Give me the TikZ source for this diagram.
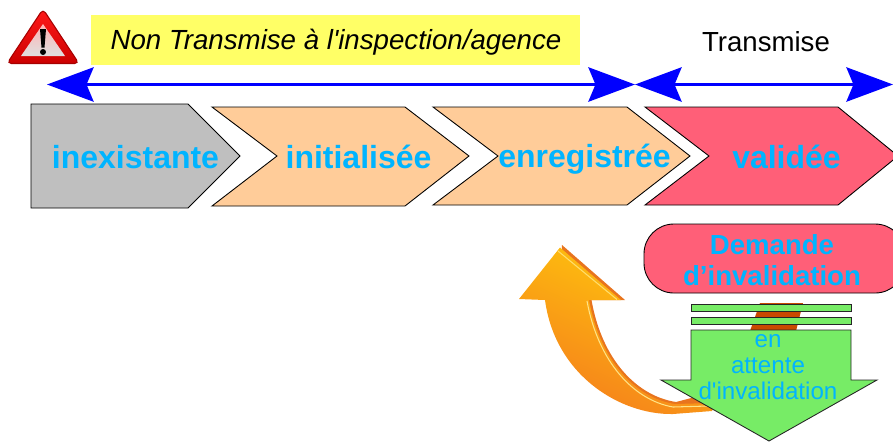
\documentclass[tikz,border=0pt]{standalone}
\usepackage{fontspec}
\setmainfont{Liberation Sans}
\newfontfamily\droitfont{Liberation Sans}
\usepackage{xcolor}
\usetikzlibrary{arrows.meta,positioning}

\definecolor{etatbleu}{HTML}{00B4FF}
\definecolor{etatgris}{HTML}{BFBFBF}
\definecolor{etatpeche}{HTML}{FFCC99}
\definecolor{etatrouge}{HTML}{FF5F78}
\definecolor{etatvert}{HTML}{77EC66}
\definecolor{etatjaune}{HTML}{FFFF66}
\definecolor{flechebleu}{HTML}{0000FF}
\definecolor{retourclair}{HTML}{FFC80C}
\definecolor{retourfonce}{HTML}{F57E1C}
\definecolor{retourbord}{HTML}{E8741E}
\definecolor{retourbrun}{HTML}{C84A00}

\tikzset{
    stepbox/.style={draw=black, line width=0.5pt},
    steplabel/.style={text=etatbleu, anchor=base, font=\fontsize{18.2}{20}\selectfont\bfseries},
    spanline/.style={draw=flechebleu, line width=1.8pt, {Stealth[length=26.5pt, width=19.5pt, inset=4pt]}-{Stealth[length=26.5pt, width=19.5pt, inset=4pt]}},
    barbox/.style={draw=black!85, fill=etatvert, line width=0.5pt}
}

\begin{document}
\begin{tikzpicture}[x=0.02cm, y=-0.02cm]

    \useasboundingbox (0,0) rectangle (893,441);

    % --- PANNEAU ATTENTION ---
    \shade[top color=red!90!white, bottom color=red!80!black, draw=red!65!black, line width=0.6pt, rounded corners=2.5pt] (43,9) -- (79,63.5) -- (7,63.5) -- cycle;
    \shade[top color=red!30!white, middle color=white, bottom color=gray!25] (43,24) -- (65,56) -- (21,56) -- cycle;
    \fill[black] (40,29) -- (46,29) -- (44.5,47.5) -- (41.5,47.5) -- cycle;
    \fill[black] (43,52) circle (3);

    % --- BANDEAUX DU HAUT ---
    \fill[etatjaune] (91,15) rectangle (580,65);
    \node[anchor=base, font=\droitfont\fontsize{15.75}{18}\selectfont\itshape] (nontransmis) at (336,49.5) {Non Transmise à l'inspection/agence};
    \node[anchor=base, font=\fontsize{15.7}{18}\selectfont] (transmis) at (766,51.5) {Transmise};

    \coordinate (debut) at (47,84.5);
    \coordinate (milieu) at (635,84.5);
    \coordinate (fin) at (893,84.5);
    \draw[spanline] (debut) -- (milieu);
    \draw[spanline] (milieu) -- (fin);

    % --- ETATS ---
    \draw[stepbox, fill=etatgris] (31,104) -- (188,104) -- (240,156) -- (188,208) -- (31,208) -- cycle;
    \draw[stepbox, fill=etatpeche] (212,107) -- (405,107) -- (469,156) -- (405,206) -- (212,206) -- (277,156) -- cycle;
    \draw[stepbox, fill=etatpeche] (433,107) -- (627,107) -- (690,156) -- (627,205) -- (433,205) -- (498,156) -- cycle;
    \draw[stepbox, fill=etatrouge] (645,107) -- (838,107) -- (898,156) -- (838,205) -- (645,205) -- (709,156) -- cycle;

    \node[steplabel] (inexistante) at (135.5,168) {inexistante};
    \node[steplabel] (initialisee) at (358.5,168) {initialisée};
    \node[steplabel] (enregistree) at (584.5,167) {enregistrée};
    \node[steplabel] (validee) at (786.5,168) {validée};

    % --- RETOUR (fleche courbe) ---
    \fill[retourbord] (562,245) -- (625,300) -- (591.5,300) .. controls (602,360) and (637,396) .. (676,402) -- (697,396.5) -- (720,396) -- (720,410) -- (650,410) -- (600,350) -- (560,290) -- cycle;
    \shade[top color=retourclair, bottom color=retourfonce, shading angle=-25]
        (560,247.5) -- (621,300) -- (589,300) .. controls (600,360) and (635,398) .. (675,404) -- (712,403) -- (712,411)
        -- (673,414) .. controls (620,415) and (555,375) .. (545,300) -- (519,299) -- cycle;
    \draw[retourclair!60!white, line width=0.6pt] (558,251) -- (617,299.5);
    \draw[retourclair!50!white, line width=0.6pt] (587,301) .. controls (598,361) and (633,400) .. (673,407) -- (708,406);

    % --- DEMANDE ---
    \draw[stepbox, fill=etatrouge, rounded corners=17pt] (644,224) -- (905,224) -- (905,293) -- (644,293) -- cycle;
    \node[text=etatbleu, font=\fontsize{15.7}{18}\selectfont\bfseries, align=center] (demande) at (772,260) {Demande\\d’invalidation};

    % --- EN ATTENTE ---
    \fill[retourbrun] (760,303) -- (803,303) -- (796,331) -- (750,331) -- cycle;
    \draw[barbox] (691,304) rectangle (851,311);
    \draw[barbox] (691,317) rectangle (851,324);
    \draw[barbox] (691,330) -- (851,330) -- (851,380) -- (877,380) -- (769,441) -- (661,380) -- (691,380) -- cycle;
    \node[text=etatbleu, font=\droitfont\fontsize{13.75}{15}\selectfont, align=center] (attente) at (768,367) {en\\attente\\d'invalidation};

\end{tikzpicture}
\end{document}
